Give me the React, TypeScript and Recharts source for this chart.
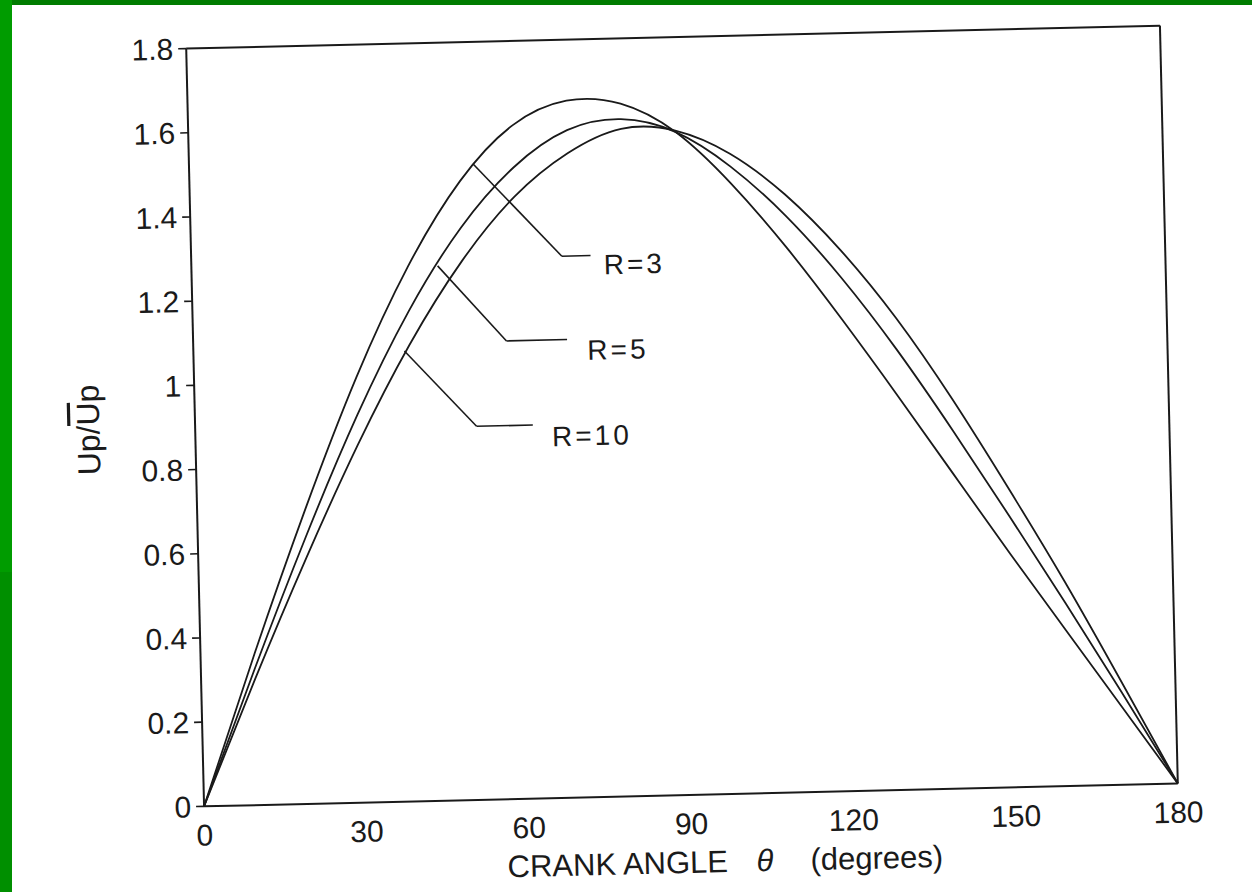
import React from "react"
import { LineChart, Line, XAxis, YAxis, ReferenceLine, ReferenceDot } from "recharts"

// crank angle, degrees
const angles = [0, 10, 20, 30, 40, 50, 60, 70, 80, 90, 100, 110, 120, 130, 140, 150, 160, 170, 180]

// Up / mean Up
const r3 = [0, 0.36, 0.7, 1.01, 1.27, 1.47, 1.6, 1.655, 1.645, 1.575, 1.45, 1.295, 1.12, 0.935, 0.745, 0.555, 0.37, 0.185, 0]
const r5 = [0, 0.325, 0.635, 0.92, 1.165, 1.36, 1.5, 1.585, 1.608, 1.575, 1.49, 1.37, 1.22, 1.045, 0.85, 0.645, 0.435, 0.22, 0]
const r10 = [0, 0.3, 0.585, 0.85, 1.085, 1.28, 1.43, 1.53, 1.585, 1.578, 1.52, 1.42, 1.285, 1.12, 0.925, 0.71, 0.485, 0.245, 0]

const xTicks = [0, 30, 60, 90, 120, 150, 180]
const yTicks = [0, 0.2, 0.4, 0.6, 0.8, 1, 1.2, 1.4, 1.6, 1.8]

// leader lines: [curve point, elbow, end], then where the text sits
const leaders = [
  { name: "R=3", pts: [[52.5, 1.51], [68.5, 1.286], [73.8, 1.286]], text: [76.2, 1.264] },
  { name: "R=5", pts: [[45.5, 1.27], [57.9, 1.088], [69.1, 1.088]], text: [72.8, 1.062] },
  { name: "R=10", pts: [[39, 1.07], [52, 0.887], [62.4, 0.887]], text: [65.9, 0.859] },
]

const rows = angles.map((a, i) => ({ angle: a, r3: r3[i], r5: r5[i], r10: r10[i] }))

const FONT = "'Liberation Sans', Arial, Helvetica, sans-serif"
const INK = "#1a1a1a"

const fmtY = (v: number) => (v === 0 ? "0" : v === 1 ? "1" : v.toFixed(1))

const XTitle = (props: any) => {
  const { x, y } = props.viewBox
  const base = y + 78
  return (
    <g fill={INK} fontFamily={FONT} fontSize={31}>
      <text x={x + 302} y={base}>CRANK ANGLE</text>
      <text x={x + 551} y={base} fontStyle="italic">θ</text>
      <text x={x + 605} y={base}>(degrees)</text>
    </g>
  )
}

const YTitle = (props: any) => {
  const { y, height } = props.viewBox
  const cx = 73
  const cy = y + height / 2
  return (
    <text
      x={cx}
      y={cy}
      transform={`rotate(-90, ${cx}, ${cy})`}
      textAnchor="middle"
      dy="0.35em"
      fill={INK}
      fontFamily={FONT}
      fontSize={32}
    >
      Up/<tspan style={{ textDecoration: "overline" }}>U</tspan>p
    </text>
  )
}

export default function App() {
  return (
    <div style={{ position: "fixed", left: 0, top: 0, width: 1252, height: 892, background: "#fff", overflow: "hidden" }}>
      <div
        style={{
          position: "absolute",
          left: 14.75,
          top: 16.75,
          width: 1184,
          height: 868,
          transform: "rotate(-1.35deg)",
          transformOrigin: "667px 399px",
        }}
      >
        <LineChart width={1184} height={868} data={rows} margin={{ top: 20, right: 30, left: 0, bottom: 0 }}>
          <XAxis
            type="number"
            dataKey="angle"
            domain={[0, 180]}
            ticks={xTicks}
            height={90}
            tickLine={false}
            tickSize={8}
            tickMargin={10}
            axisLine={{ stroke: INK, strokeWidth: 2 }}
            tick={{ fill: INK, fontSize: 30, fontFamily: FONT }}
            label={<XTitle />}
          />
          <YAxis
            type="number"
            domain={[0, 1.8]}
            ticks={yTicks}
            tickFormatter={fmtY}
            width={180}
            tickSize={8}
            tickMargin={5}
            tickLine={{ stroke: INK, strokeWidth: 1.6 }}
            axisLine={{ stroke: INK, strokeWidth: 2 }}
            tick={{ fill: INK, fontSize: 30, fontFamily: FONT }}
            label={<YTitle />}
          />
          <ReferenceLine y={1.8} stroke={INK} strokeWidth={2} />
          <ReferenceLine x={180} stroke={INK} strokeWidth={2} />

          <Line type="natural" dataKey="r3" stroke={INK} strokeWidth={1.8} dot={false} isAnimationActive={false} />
          <Line type="natural" dataKey="r5" stroke={INK} strokeWidth={1.8} dot={false} isAnimationActive={false} />
          <Line type="natural" dataKey="r10" stroke={INK} strokeWidth={1.8} dot={false} isAnimationActive={false} />

          {leaders.map((l) => (
            <ReferenceLine
              key={l.name + "a"}
              segment={[{ x: l.pts[0][0], y: l.pts[0][1] }, { x: l.pts[1][0], y: l.pts[1][1] }]}
              stroke={INK}
              strokeWidth={1.6}
            />
          ))}
          {leaders.map((l) => (
            <ReferenceLine
              key={l.name + "b"}
              segment={[{ x: l.pts[1][0], y: l.pts[1][1] }, { x: l.pts[2][0], y: l.pts[2][1] }]}
              stroke={INK}
              strokeWidth={1.6}
            />
          ))}
          {leaders.map((l) => (
            <ReferenceDot
              key={l.name + "t"}
              x={l.text[0]}
              y={l.text[1]}
              r={1}
              shape={(p: any) => (
                <text
                  x={p.cx}
                  y={p.cy}
                  dy="0.35em"
                  fill={INK}
                  fontFamily={FONT}
                  fontSize={28}
                  letterSpacing={3}
                >
                  {l.name}
                </text>
              )}
            />
          ))}
        </LineChart>
      </div>
      <div style={{ position: "absolute", left: 0, top: 0, width: 1252, height: 5, background: "#007c00" }} />
      <div style={{ position: "absolute", left: 0, top: 0, width: 12, height: 572, background: "#009c00" }} />
      <div style={{ position: "absolute", left: 0, top: 572, width: 12, height: 320, background: "#008f00" }} />
    </div>
  )
}
